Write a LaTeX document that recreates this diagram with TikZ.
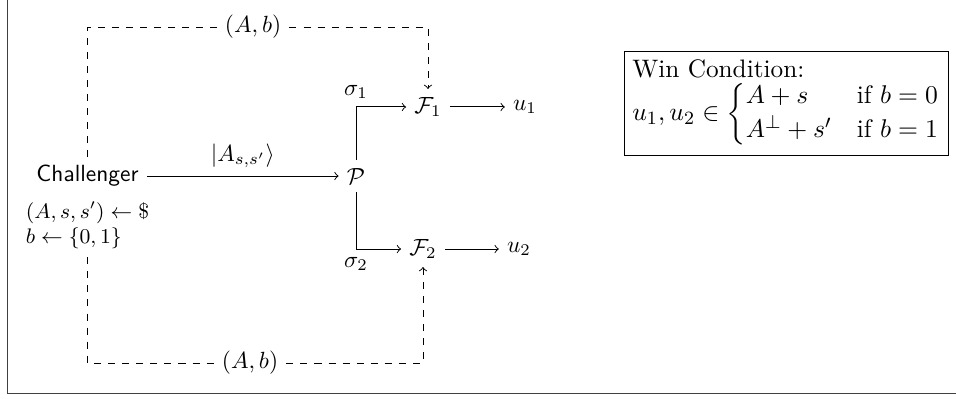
\documentclass[tikz,border=0pt]{standalone}
\usepackage{amsmath}
\usetikzlibrary{positioning}
\begin{document}
\begin{tikzpicture}

\useasboundingbox (0,0) rectangle (14.354,5.976);
\draw [black!75] (0.113,5.976) |- (14.354,0.065);

\node (ch) at (1.314,3.333) {\textsf{Challenger}};
\node (P) at (5.345,3.333) {$\mathcal{P}$};
\node (F1) at (6.426,4.370) {$\mathcal{F}_1$};
\node (F2) at (6.351,2.237) {$\mathcal{F}_2$};
\node (u1) at (7.883,4.370) {$u_1$};
\node (u2) at (7.793,2.237) {$u_2$};

\node [font=\fontsize{9}{10.7}\selectfont, align=left] (setup) at (1.314,2.59) {$(A,s,s') \leftarrow \$$\\ $b \leftarrow \{0,1\}$};

\draw [->] (ch) -- node [above] {$|A_{s,s'}\rangle$} (P);
\draw [->] (P) |- node [above] {$\sigma_1$} (F1);
\draw [->] (P) |- node [below] {$\sigma_2$} (F2);
\draw [->] (F1) -- (u1);
\draw [->] (F2) -- (u2);

\node [fill=white] (topAb) at (3.8,5.57) {$(A,b)$};
\draw [dashed] (ch.north) |- (topAb.west);
\draw [dashed,->] (topAb.east) -| (F1.north);

\node [fill=white] (botAb) at (3.754,0.526) {$(A,b)$};
\draw [dashed] (setup.south) |- (botAb.west);
\draw [dashed,->] (botAb.east) -| (F2.south);

\node [draw, align=left, font=\fontsize{10.8}{12.1}\selectfont] (win) at (11.81,4.42) {Win Condition:\\ $u_1,u_2 \in \begin{cases} A+s & \text{if } b=0\\ A^{\perp}+s' & \text{if } b=1 \end{cases}$};

\end{tikzpicture}
\end{document}
